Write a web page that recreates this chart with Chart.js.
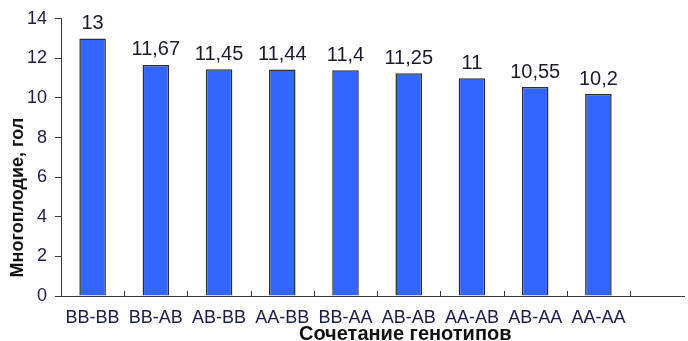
<!DOCTYPE html>
<html>
<head>
<meta charset="utf-8">
<script src="https://cdn.jsdelivr.net/npm/chart.js@4.4.0/dist/chart.umd.min.js"></script>
<style>
  html, body { margin: 0; padding: 0; background: #fff; }
  #wrap { width: 688px; height: 341px; }
</style>
</head>
<body>
<div id="wrap"><canvas id="chart"></canvas></div>
<script>
// Data
const categories = ['BB-BB', 'BB-AB', 'AB-BB', 'AA-BB', 'BB-AA', 'AB-AB', 'AA-AB', 'AB-AA', 'AA-AA'];
const values = [13, 11.67, 11.45, 11.44, 11.4, 11.25, 11, 10.55, 10.2];
const yTicks = [0, 2, 4, 6, 8, 10, 12, 14];
const yTitle = 'Многоплодие, гол';
const xTitle = 'Сочетание генотипов';

const AXIS_COLOR = '#3a3a3a';
const TEXT_COLOR = '#1c1c48';
const FONT = '"Liberation Sans", Arial, sans-serif';

// value labels above bars, comma decimals
const barLabels = {
    id: 'barLabels',
    afterDatasetsDraw(chart) {
        const ctx = chart.ctx;
        const meta = chart.getDatasetMeta(0);
        ctx.save();
        ctx.font = '20px ' + FONT;
        ctx.fillStyle = '#1a1a2a';
        ctx.textAlign = 'center';
        ctx.textBaseline = 'bottom';
        meta.data.forEach((bar, i) => {
            ctx.fillText(String(values[i]).replace('.', ','), bar.x, bar.y - 5);
        });
        ctx.restore();
    }
};

// axis extras: inward category ticks, extended x axis line, titles
const axisExtras = {
    id: 'axisExtras',
    afterDraw(chart) {
        const ctx = chart.ctx;
        const area = chart.chartArea;
        const xs = chart.scales.x;
        ctx.save();
        ctx.strokeStyle = AXIS_COLOR;
        ctx.lineWidth = 1;
        ctx.beginPath();
        ctx.moveTo(area.right, area.bottom + 0.5);
        ctx.lineTo(chart.width - 3, area.bottom + 0.5);
        const step = xs.getPixelForValue(1) - xs.getPixelForValue(0);
        for (let i = 0; i < categories.length; i++) {
            const bx = Math.round(xs.getPixelForValue(i) + step / 2) + 0.5;
            ctx.moveTo(bx, area.bottom);
            ctx.lineTo(bx, area.bottom - 5);
        }
        ctx.stroke();

        ctx.fillStyle = '#111';
        ctx.textAlign = 'center';
        ctx.textBaseline = 'middle';
        ctx.font = 'bold 20px ' + FONT;
        ctx.fillText(xTitle, area.left + (chart.width - area.left) * 0.549, 334);

        ctx.translate(18, area.top + (area.bottom - area.top) * 0.645);
        ctx.rotate(-Math.PI / 2);
        ctx.font = 'bold 18px ' + FONT;
        ctx.fillText(yTitle, 0, 0);
        ctx.restore();
    }
};

new Chart(document.getElementById('chart'), {
    type: 'bar',
    data: {
        labels: categories,
        datasets: [{
            data: values,
            backgroundColor: '#3366ff',
            borderColor: '#2e2e2e',
            borderWidth: 1.5,
            barPercentage: 0.42,
            categoryPercentage: 1
        }]
    },
    options: {
        responsive: true,
        maintainAspectRatio: false,
        animation: false,
        layout: { padding: { top: 12, right: 58, bottom: 1, left: 0 } },
        plugins: { legend: { display: false }, tooltip: { enabled: false } },
        scales: {
            x: {
                grid: { display: false, drawTicks: false },
                border: { display: true, color: AXIS_COLOR, width: 1 },
                ticks: {
                    color: TEXT_COLOR,
                    padding: 13,
                    maxRotation: 0,
                    autoSkip: false,
                    font: { family: FONT, size: 18, lineHeight: 1.0 }
                }
            },
            y: {
                min: 0,
                max: 14,
                afterFit(scale) { scale.width = 61; },
                afterBuildTicks(scale) { scale.ticks = yTicks.map(v => ({ value: v })); },
                grid: { display: true, drawOnChartArea: false, drawTicks: true, tickLength: 6, color: AXIS_COLOR },
                border: { display: true, color: AXIS_COLOR, width: 1 },
                ticks: {
                    color: TEXT_COLOR,
                    padding: 8,
                    font: { family: FONT, size: 18 }
                }
            }
        }
    },
    plugins: [barLabels, axisExtras]
});
</script>
</body>
</html>
